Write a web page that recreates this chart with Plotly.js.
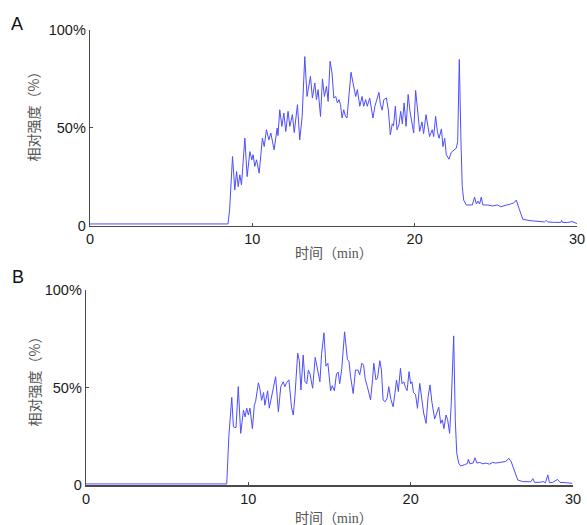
<!DOCTYPE html>
<html>
<head>
<meta charset="utf-8">
<script src="https://cdn.plot.ly/plotly-3.0.1.min.js"></script>
<style>
html,body{margin:0;padding:0;background:#fff;}
#chart{width:587px;height:525px;}
</style>
</head>
<body>
<div id="chart"></div>
<script>
// Panel A: retention time (min) and relative intensity (%)
const timeA = [
  0, 8.5, 8.6, 8.7, 8.78, 8.92, 9.03, 9.13, 9.23, 9.33,
  9.54, 9.68, 9.85, 9.97, 10.05, 10.15, 10.26, 10.42, 10.62, 10.73,
  10.87, 11.02, 11.14, 11.34, 11.53, 11.58, 11.69, 11.82, 11.94, 12.06,
  12.2, 12.31, 12.47, 12.58, 12.78, 12.92, 13.07, 13.23, 13.37, 13.58,
  13.7, 13.85, 13.95, 14.05, 14.2, 14.32, 14.44, 14.57, 14.67, 14.79,
  14.91, 15.02, 15.14, 15.24, 15.34, 15.43, 15.53, 15.63, 15.73, 15.83,
  16.08, 16.2, 16.37, 16.47, 16.62, 16.76, 16.86, 16.98, 17.08, 17.23,
  17.33, 17.43, 17.55, 17.68, 17.8, 17.89, 18.0, 18.1, 18.26, 18.38,
  18.5, 18.62, 18.7, 18.81, 18.91, 19.03, 19.14, 19.24, 19.35, 19.47,
  19.6, 19.7, 19.82, 19.94, 20.06, 20.18, 20.31, 20.45, 20.55, 20.7,
  20.82, 20.92, 21.08, 21.17, 21.29, 21.4, 21.5, 21.65, 21.74, 21.85,
  21.95, 22.11, 22.26, 22.4, 22.57, 22.65, 22.75, 22.85, 22.93, 23.02,
  23.18, 23.55, 23.69, 23.8, 23.9, 24.0, 24.1, 24.2, 24.5, 24.8,
  25.1, 25.3, 25.6, 25.9, 26.1, 26.26, 26.46, 26.66, 27.1, 27.6,
  28.0, 28.1, 28.2, 28.6, 29.0, 29.05, 29.1, 29.4, 29.7, 30
];
const intensityA = [
  0.8, 0.8, 8, 25, 35.3, 18.2, 27.6, 19.9, 25.9, 20.8,
  44.7, 25, 37.8, 33.6, 36.2, 30.2, 33.6, 26.8, 44.7, 40.4,
  49, 43.8, 47.3, 38.7, 49.8, 46, 59.2, 50.7, 57.5, 48.1,
  58.4, 50.7, 56.7, 47.5, 61.8, 43.8, 55.8, 86.4, 66, 76.3,
  65.2, 72.9, 64.4, 69.5, 55.8, 75, 66, 71.2, 63.5, 84,
  78, 65.2, 66, 62.7, 64.4, 61.8, 55, 59.2, 56, 55,
  78.4, 73, 66, 69.5, 61, 66, 61, 64.4, 61, 65.2,
  59.2, 55, 61, 64.5, 68.1, 62, 59, 64.4, 65.2, 59,
  46.4, 52, 51, 61, 49, 51.5, 58.4, 52, 62.7, 50.7,
  67, 59, 54, 47.3, 69.1, 59, 48.1, 53, 47, 56.7,
  51, 45.5, 49, 45.5, 55.8, 48, 44.6, 49.4, 40.4, 44.6,
  36.2, 33.9, 37.5, 38.5, 39.6, 43, 84.9, 43.8, 20, 13,
  10.5, 10.5, 14.5, 11, 12.5, 11, 14.5, 10.5, 10.5, 10,
  10.5, 9.6, 10.5, 11, 11.5, 13, 8, 3.2, 2.5, 2,
  1.8, 2.6, 1.8, 1.6, 1.6, 2.6, 1.6, 1.5, 2, 1
];

// Panel B
const timeB = [
  0, 8.67, 8.8, 8.98, 9.08, 9.24, 9.38, 9.53, 9.7, 9.8,
  9.9, 10.0, 10.1, 10.25, 10.37, 10.45, 10.62, 10.72, 10.82, 10.94,
  11.02, 11.12, 11.19, 11.29, 11.43, 11.68, 11.85, 12.0, 12.15, 12.25,
  12.35, 12.5, 12.66, 12.77, 12.87, 13.04, 13.14, 13.24, 13.38, 13.49,
  13.6, 13.7, 13.8, 13.96, 14.12, 14.26, 14.41, 14.51, 14.66, 14.78,
  14.9, 15.07, 15.17, 15.3, 15.43, 15.53, 15.63, 15.76, 15.93, 16.1,
  16.2, 16.3, 16.46, 16.6, 16.76, 16.86, 16.99, 17.1, 17.2, 17.33,
  17.53, 17.65, 17.73, 17.86, 17.96, 18.1, 18.2, 18.3, 18.43, 18.55,
  18.65, 18.78, 18.92, 19.03, 19.13, 19.24, 19.37, 19.47, 19.58, 19.68,
  19.78, 19.9, 20.0, 20.08, 20.17, 20.3, 20.42, 20.56, 20.7, 20.8,
  20.95, 21.07, 21.19, 21.31, 21.48, 21.62, 21.73, 21.85, 21.95, 22.05,
  22.18, 22.28, 22.4, 22.5, 22.65, 22.75, 22.84, 22.96, 23.08, 23.3,
  23.5, 23.55, 23.65, 23.85, 23.96, 24.08, 24.25, 24.45, 24.65, 24.85,
  25.05, 25.25, 25.45, 25.65, 25.85, 26.05, 26.2, 26.3, 26.45, 26.6,
  26.9, 27.4, 27.53, 27.63, 27.95, 28.15, 28.3, 28.45, 28.55, 28.75,
  29.05, 29.2, 29.6, 29.95
];
const intensityB = [
  0.7, 0.7, 25, 45, 30, 29.5, 50.5, 26.6, 38.5, 35,
  39.5, 36, 39.5, 29, 41, 43, 52.5, 49, 43.5, 47.5,
  41, 46, 48.4, 39.5, 46, 55.6, 37.7, 50.5, 53, 50.5,
  52.5, 54, 40, 36, 45.5, 67.6, 64, 48.8, 66.7, 53,
  52, 59, 57, 49.7, 65.5, 60, 53, 67, 78.1, 61,
  62.5, 48.4, 51, 48.4, 57, 58, 52, 60, 78.6, 64.5,
  63.5, 55.5, 47, 59, 59, 56.5, 62.5, 61.5, 54.5, 50.5,
  43.7, 54, 62.5, 54, 55, 63.8, 59, 43.7, 42.8, 44.5,
  50.5, 44, 40.2, 47, 53.9, 48, 59.9, 52, 53, 50,
  48.5, 58.2, 52, 53, 47.5, 46.5, 39.4, 52.2, 43.5, 37,
  31.7, 45, 51.4, 42.5, 34, 37.5, 40, 31.7, 33.5, 29,
  36, 33.5, 26.6, 42, 76.5, 33, 16.4, 11.3, 9.9, 10.5,
  11.2, 13.3, 11, 11.4, 14.1, 11.4, 11.7, 11, 11.4, 10.8,
  11.7, 11.4, 11.7, 12, 12.2, 13.8, 12, 9.5, 5.5, 2.7,
  1.9, 1.8, 3.4, 1.5, 1.5, 1.9, 1.3, 5.3, 1.3, 1.5,
  3, 1.5, 1.3, 1
];

const xTicks = [0, 10, 20, 30];
const yTicks = [0, 50, 100];
const yTickLabels = ['0', '50%', '100%'];
const panelLabels = ['A', 'B'];
const yTitle = '相对强度（%）';
const xTitle = '时间（min）';

const W = 587, H = 525;
const px = v => v / W;
const py = v => 1 - v / H;

const lineStyle = {color: '#4d4dff', width: 1};

const traces = [
  {x: timeA, y: intensityA, type: 'scatter', mode: 'lines', line: lineStyle, xaxis: 'x', yaxis: 'y', hoverinfo: 'x+y'},
  {x: timeB, y: intensityB, type: 'scatter', mode: 'lines', line: lineStyle, xaxis: 'x2', yaxis: 'y2', hoverinfo: 'x+y'}
];

const tickFont = {family: "'Liberation Sans', Arial, sans-serif", size: 14.5, color: '#1a1a1a'};
function xAxis(domain, anchor) {
  return {
    domain: domain, anchor: anchor, range: [0, 30], tickvals: xTicks, ticktext: xTicks.map(String),
    showline: true, linecolor: '#4a4a4a', linewidth: 1.3, mirror: false,
    ticks: 'inside', ticklen: 3, tickcolor: '#4a4a4a', showgrid: false, zeroline: false,
    tickfont: tickFont, fixedrange: true
  };
}
function yAxis(domain, anchor) {
  return {
    domain: domain, anchor: anchor, range: [0, 100], tickvals: yTicks, ticktext: yTickLabels,
    showline: true, linecolor: '#4a4a4a', linewidth: 1.3, mirror: false,
    ticks: 'inside', ticklen: 3, tickcolor: '#4a4a4a', showgrid: false, zeroline: false,
    tickfont: tickFont, fixedrange: true
  };
}

const yTitleFont = {family: "'Noto Sans CJK SC', sans-serif", size: 14, color: '#555'};
const xTitleFont = {family: "'Liberation Serif', 'Noto Sans CJK SC', serif", size: 14, color: '#555'};

function note(text, x, y, font, angle) {
  return {text: text, xref: 'paper', yref: 'paper', x: px(x), y: py(y), xanchor: 'center', yanchor: 'middle',
          showarrow: false, textangle: angle || 0, font: font};
}
const labelFont = {family: "'Liberation Sans', Arial, sans-serif", size: 18, color: '#111'};

const layout = {
  width: W, height: H,
  margin: {l: 0, r: 0, t: 0, b: 0},
  paper_bgcolor: '#fff', plot_bgcolor: 'rgba(0,0,0,0)',
  showlegend: false,
  xaxis: xAxis([px(90), px(577)], 'y'),
  yaxis: yAxis([py(225.5), py(30)], 'x'),
  xaxis2: xAxis([px(86), px(573)], 'y2'),
  yaxis2: yAxis([py(485.3), py(290)], 'x2'),
  annotations: [
    note(panelLabels[0], 17, 23.5, labelFont),
    note(panelLabels[1], 17.5, 276.5, labelFont),
    note(yTitle, 33, 113.5, yTitleFont, -90),
    note(yTitle, 33, 378.5, yTitleFont, -90),
    note(xTitle, 333.5, 253.5, xTitleFont),
    note(xTitle, 333.5, 518, xTitleFont)
  ]
};

Plotly.newPlot('chart', traces, layout, {displayModeBar: false, staticPlot: true});
</script>
</body>
</html>
